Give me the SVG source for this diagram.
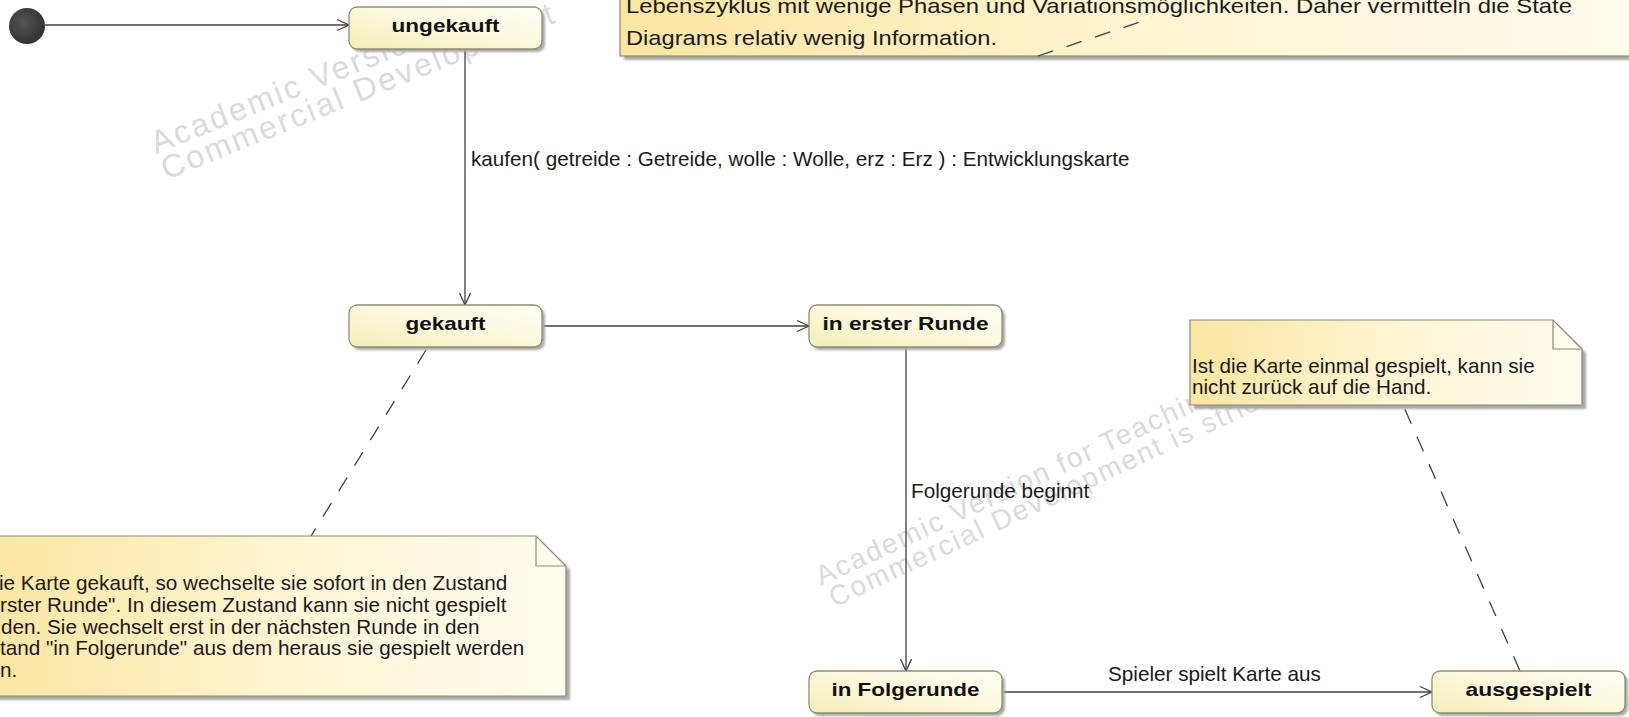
<svg xmlns="http://www.w3.org/2000/svg" width="1629" height="717" viewBox="0 0 1629 717">
  <defs>
    <linearGradient id="stateFill" x1="0" y1="1" x2="1" y2="0">
      <stop offset="0" stop-color="#f4eeb8"/>
      <stop offset="0.55" stop-color="#fcf9de"/>
      <stop offset="1" stop-color="#fffff6"/>
    </linearGradient>
    <linearGradient id="noteFill" x1="0" y1="0" x2="1" y2="0">
      <stop offset="0" stop-color="#fce6a2"/>
      <stop offset="0.5" stop-color="#fef5d2"/>
      <stop offset="1" stop-color="#fffcef"/>
    </linearGradient>
    <radialGradient id="initFill" cx="0.4" cy="0.4" r="0.6">
      <stop offset="0" stop-color="#555555"/>
      <stop offset="1" stop-color="#333333"/>
    </radialGradient>
    <filter id="soft" x="-10%" y="-30%" width="120%" height="160%">
      <feGaussianBlur stdDeviation="1.2"/>
    </filter>
    <marker id="open" markerUnits="userSpaceOnUse" markerWidth="14" markerHeight="14" viewBox="0 0 14 14" refX="13" refY="7" orient="auto">
      <path d="M1,1.5 L13,7 L1,12.5" fill="none" stroke="#404040" stroke-width="1.3"/>
    </marker>
  </defs>
  <style>
    .wm { font-family: "Liberation Sans", Arial, sans-serif; font-size: 32px; letter-spacing: 2.5px; fill: #dadada; }
    .wm2 { font-family: "Liberation Sans", Arial, sans-serif; font-size: 28px; letter-spacing: 2px; fill: #dadada; }
    .shadow { fill: #a8a8a8; filter: url(#soft); }
    .state { fill: url(#stateFill); stroke: #8f8f72; stroke-width: 1.3; }
    .note { fill: url(#noteFill); stroke: #8a8a74; stroke-width: 1.2; }
    .fold { fill: none; stroke: #8a8a74; stroke-width: 1.2; }
    .lbl { font-family: "Liberation Sans", Arial, sans-serif; font-size: 19px; font-weight: bold; fill: #111111; text-anchor: middle; }
    .txt { font-family: "Liberation Sans", Arial, sans-serif; font-size: 20.7px; fill: #1a1a1a; }
    .edge { fill: none; stroke: #404040; stroke-width: 1.3; }
    .anchor { fill: none; stroke: #404040; stroke-width: 1.3; stroke-dasharray: 16 14; }
  </style>

  <rect width="1629" height="717" fill="#ffffff"/>

  <!-- licence watermark lettering behind the diagram -->
  <g id="watermarks">
    <g transform="translate(156,154) rotate(-22)">
      <text class="wm" x="0" y="0">Academic Version</text>
      <text class="wm" x="0" y="28">Commercial Development</text>
    </g>
    <g transform="translate(821,586) rotate(-25)">
      <text class="wm2" x="0" y="0">Academic Version for Teaching</text>
      <text class="wm2" x="3" y="25">Commercial Development is strictly</text>
    </g>
  </g>

  <!-- note anchors -->
  <g id="anchors">
    <line class="anchor" x1="426" y1="350" x2="311" y2="536"/>
    <line class="anchor" x1="1520" y1="671" x2="1403" y2="405"/>
  </g>

  <!-- transitions -->
  <g id="connectors">
    <line class="edge" x1="45" y1="25" x2="349" y2="25" marker-end="url(#open)"/>
    <line class="edge" x1="465" y1="49" x2="465" y2="305" marker-end="url(#open)"/>
    <line class="edge" x1="542" y1="326" x2="809" y2="326" marker-end="url(#open)"/>
    <line class="edge" x1="906" y1="347" x2="906" y2="671" marker-end="url(#open)"/>
    <line class="edge" x1="1002" y1="692" x2="1432" y2="692" marker-end="url(#open)"/>
    <text class="txt" x="471" y="166">kaufen( getreide : Getreide, wolle : Wolle, erz : Erz ) : Entwicklungskarte</text>
    <text class="txt" x="911" y="498">Folgerunde beginnt</text>
    <text class="txt" x="1108" y="681">Spieler spielt Karte aus</text>
  </g>

  <!-- initial pseudo state -->
  <g id="initial">
    <circle cx="27" cy="26" r="18" fill="url(#initFill)"/>
  </g>

  <g id="ungekauft">
    <rect class="shadow" x="352" y="10" width="193" height="42" rx="8"/>
    <rect class="state" x="349" y="7" width="193" height="42" rx="8"/>
    <text class="lbl" x="445.5" y="32" textLength="108" lengthAdjust="spacingAndGlyphs">ungekauft</text>
  </g>

  <g id="gekauft">
    <rect class="shadow" x="352" y="308" width="193" height="42" rx="8"/>
    <rect class="state" x="349" y="305" width="193" height="42" rx="8"/>
    <text class="lbl" x="445.5" y="330" textLength="80" lengthAdjust="spacingAndGlyphs">gekauft</text>
  </g>

  <g id="in-erster-runde">
    <rect class="shadow" x="812" y="308" width="193" height="42" rx="8"/>
    <rect class="state" x="809" y="305" width="193" height="42" rx="8"/>
    <text class="lbl" x="905.5" y="330" textLength="166" lengthAdjust="spacingAndGlyphs">in erster Runde</text>
  </g>

  <g id="in-folgerunde">
    <rect class="shadow" x="812" y="674" width="193" height="42" rx="8"/>
    <rect class="state" x="809" y="671" width="193" height="42" rx="8"/>
    <text class="lbl" x="905.5" y="696" textLength="148" lengthAdjust="spacingAndGlyphs">in Folgerunde</text>
  </g>

  <g id="ausgespielt">
    <rect class="shadow" x="1435" y="674" width="193" height="42" rx="8"/>
    <rect class="state" x="1432" y="671" width="193" height="42" rx="8"/>
    <text class="lbl" x="1528.5" y="696" textLength="126" lengthAdjust="spacingAndGlyphs">ausgespielt</text>
  </g>

  <!-- comments -->
  <g id="note-lifecycle">
    <rect class="shadow" x="624" y="-60" width="1040" height="120"/>
    <rect class="note" x="620" y="-64" width="1040" height="120"/>
    <text class="txt" x="626" y="13" textLength="946" lengthAdjust="spacingAndGlyphs">Lebenszyklus mit wenige Phasen und Variationsmöglichkeiten. Daher vermitteln die State</text>
    <text class="txt" x="626" y="45" textLength="371" lengthAdjust="spacingAndGlyphs">Diagrams relativ wenig Information.</text>
    <line class="anchor" x1="1038" y1="56" x2="1152" y2="18"/>
  </g>

  <g id="note-gekauft">
    <path class="shadow" d="M-10,540 H540 L570,570 V700 H-10 Z"/>
    <path class="note" d="M-10,536 H536 L566,566 V696 H-10 Z"/>
    <path class="fold" d="M536,536 V566 H566"/>
    <text class="txt" x="-1" y="590">ie Karte gekauft, so wechselte sie sofort in den Zustand</text>
    <text class="txt" x="0" y="612">rster Runde". In diesem Zustand kann sie nicht gespielt</text>
    <text class="txt" x="1" y="634">den. Sie wechselt erst in der nächsten Runde in den</text>
    <text class="txt" x="0" y="655">tand "in Folgerunde" aus dem heraus sie gespielt werden</text>
    <text class="txt" x="0" y="677">n.</text>
  </g>

  <g id="note-ausgespielt">
    <path class="shadow" d="M1194,324 H1557 L1586,353 V409 H1194 Z"/>
    <path class="note" d="M1190,320 H1553 L1582,349 V405 H1190 Z"/>
    <path class="fold" d="M1553,320 V349 H1582"/>
    <text class="txt" x="1192" y="373">Ist die Karte einmal gespielt, kann sie</text>
    <text class="txt" x="1192" y="394">nicht zurück auf die Hand.</text>
  </g>
</svg>
